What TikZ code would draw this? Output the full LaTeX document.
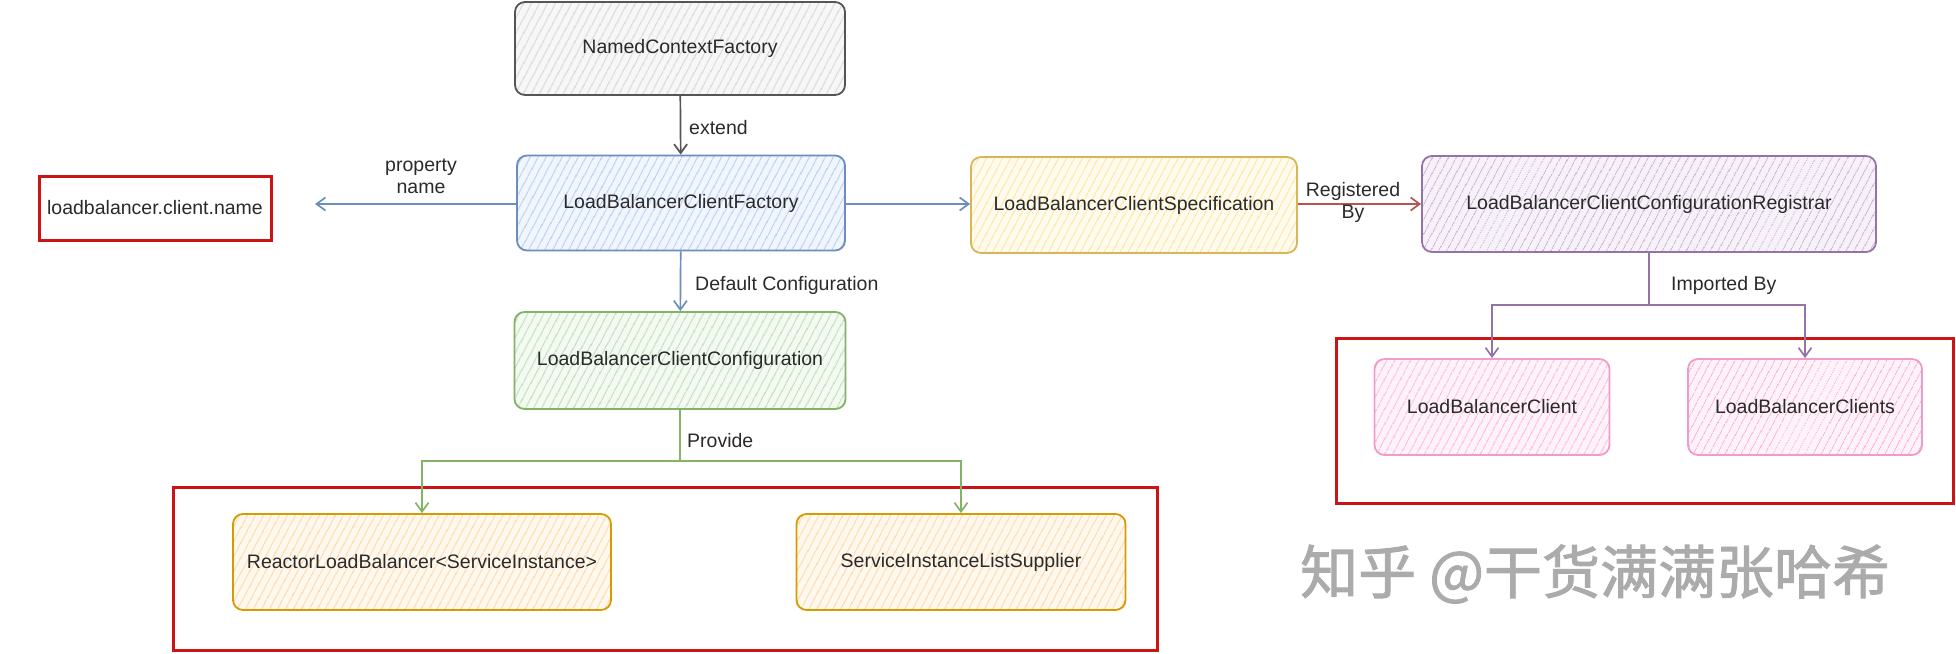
\documentclass[tikz,border=0pt]{standalone}
\usepackage{fontspec}
\setmainfont{Liberation Sans}
\newfontfamily\cjk[FakeBold=1.6]{Noto Sans CJK SC}
\usetikzlibrary{arrows.meta,patterns.meta}
\definecolor{txt}{HTML}{2A2A2A}
\definecolor{gstroke}{HTML}{555555}\definecolor{ghatch}{HTML}{D6D6D6}\definecolor{gfill}{HTML}{F7F7F7}
\definecolor{bstroke}{HTML}{6C8EBF}\definecolor{bhatch}{HTML}{B6CDF1}\definecolor{bfill}{HTML}{F1F6FE}
\definecolor{ystroke}{HTML}{D6B656}\definecolor{yhatch}{HTML}{FFE39A}\definecolor{yfill}{HTML}{FFFBEE}
\definecolor{pstroke}{HTML}{9673A6}\definecolor{phatch}{HTML}{D0BEDB}\definecolor{pfill}{HTML}{F7F2F9}
\definecolor{grstroke}{HTML}{82B366}\definecolor{grhatch}{HTML}{BEDDB6}\definecolor{grfill}{HTML}{F3FAF2}
\definecolor{ostroke}{HTML}{D79B00}\definecolor{ohatch}{HTML}{FFD6A2}\definecolor{ofill}{HTML}{FFF8EF}
\definecolor{kstroke}{HTML}{F09CC8}\definecolor{khatch}{HTML}{FFB8DD}\definecolor{kfill}{HTML}{FFF3FA}
\definecolor{rstroke}{HTML}{B85450}
\definecolor{frame}{HTML}{CC1414}
\tikzset{
  box/.style n args={3}{rounded corners=10pt, line width=1.8pt, draw=#1,
    preaction={fill=#3}, pattern={Lines[angle=62,distance=6.5pt,line width=1pt]}, pattern color=#2,
    text=txt, font=\fontsize{19.5}{22}\selectfont, inner sep=0pt},
  arr/.style={line width=1.7pt, -{Straight Barb[length=9pt,width=13pt,line width=1.7pt]}},
  lbl/.style={text=txt, font=\fontsize{19.5}{22}\selectfont, align=center, inner sep=2pt},
  redframe/.style={draw=frame, line width=3pt},
}
\begin{document}
\begin{tikzpicture}[x=1pt,y=-1pt]
\useasboundingbox (0,0) rectangle (1956,653);
% nodes
\node[box={gstroke}{ghatch}{gfill}, minimum width=330pt, minimum height=93pt] (ncf) at (680,48.5) {NamedContextFactory};
\node[box={bstroke}{bhatch}{bfill}, minimum width=328pt, minimum height=95pt] (lbcf) at (681,203) {LoadBalancerClientFactory};
\node[redframe, text=txt, font=\fontsize{19.5}{22}\selectfont, minimum width=232pt, minimum height=64pt] (name) at (155,208) {loadbalancer.client.name};
\node[box={ystroke}{yhatch}{yfill}, minimum width=326pt, minimum height=96pt] (spec) at (1134,205) {LoadBalancerClientSpecification};
\node[box={pstroke}{phatch}{pfill}, minimum width=454pt, minimum height=96pt] (reg) at (1649,204) {LoadBalancerClientConfigurationRegistrar};
\node[box={grstroke}{grhatch}{grfill}, minimum width=331pt, minimum height=97pt] (conf) at (680,360.5) {LoadBalancerClientConfiguration};
\node[box={ostroke}{ohatch}{ofill}, minimum width=378pt, minimum height=96pt] (rlb) at (422,562) {ReactorLoadBalancer<ServiceInstance>};
\node[box={ostroke}{ohatch}{ofill}, minimum width=329pt, minimum height=96pt] (sils) at (961,562) {ServiceInstanceListSupplier};
\node[box={kstroke}{khatch}{kfill}, minimum width=235pt, minimum height=96pt] (lbc) at (1492,407) {LoadBalancerClient};
\node[box={kstroke}{khatch}{kfill}, minimum width=234pt, minimum height=96pt] (lbcs) at (1805,407) {LoadBalancerClients};
% red frames
\draw[redframe] (173,487) rectangle (1157,650);
\draw[redframe] (1336,338) rectangle (1953,503);
% connectors
\draw[arr, draw=gstroke] (ncf) -- (lbcf);
\node[lbl, anchor=west] (lext) at (687,128) {extend};
\coordinate (nametip) at (315,204);
\draw[arr, draw=bstroke] (lbcf.west |- nametip) -- (nametip);
\node[lbl] (lprop) at (421,176) {property\\name};
\draw[arr, draw=bstroke] (lbcf.east |- 0,204) -- (spec.west |- 0,204);
\draw[arr, draw=rstroke] (spec.east |- 0,204) -- (reg.west |- 0,204);
\node[lbl] (lreg) at (1353,202) {Registered\\By};
\draw[arr, draw=bstroke] (lbcf) -- (conf);
\node[lbl, anchor=west] (ldef) at (693,285) {Default Configuration};
% Imported by
\coordinate (imp) at (1649,305);
\draw[line width=1.7pt, draw=pstroke] (reg) -- (imp);
\draw[arr, draw=pstroke] (imp) -| (lbc);
\draw[arr, draw=pstroke] (imp) -| (lbcs);
\node[lbl, anchor=west] (limp) at (1669,285) {Imported By};
% Provide
\coordinate (prov) at (680,461);
\draw[line width=1.7pt, draw=grstroke] (conf) -- (prov);
\draw[arr, draw=grstroke] (prov) -| (rlb);
\draw[arr, draw=grstroke] (prov) -| (sils);
\node[lbl, anchor=west] (lprov) at (685,441) {Provide};
% watermark
\node[anchor=west, inner sep=0pt, text=black!33, font=\cjk\fontsize{58}{62}\selectfont] (wm) at (1300,574) {知乎 @干货满满张哈希};
\end{tikzpicture}
\end{document}
